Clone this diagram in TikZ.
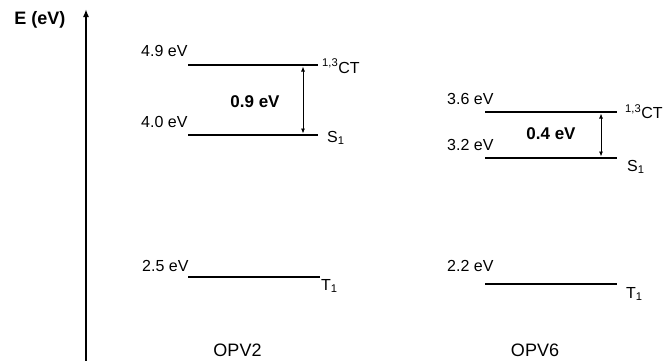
\documentclass[tikz,border=0pt]{standalone}
\usepackage{fontspec}
\setmainfont{Liberation Sans}
\usetikzlibrary{arrows.meta}
\begin{document}
\begin{tikzpicture}[x=1pt,y=-1pt,
  level/.style={line width=2.6pt},
  gap/.style={line width=0.8pt,{Latex[length=5pt,width=4pt]}-{Latex[length=5pt,width=4pt]}},
  val/.style={anchor=west,inner sep=0pt,font=\fontsize{16}{18}\selectfont},
  state/.style={anchor=base west,inner sep=0pt,font=\fontsize{16}{18}\selectfont},
  diff/.style={inner sep=0pt,font=\fontsize{17}{19}\selectfont\bfseries},
  mol/.style={inner sep=0pt,font=\fontsize{18}{20}\selectfont}]
\useasboundingbox (0,0) rectangle (668,360);

% energy axis
\coordinate (ax0) at (86,362);
\coordinate (ax1) at (86,9);
\draw[line width=1.8pt,-{Latex[length=8pt,width=6pt]}] (ax0) -- (ax1);
\node[inner sep=0pt,font=\fontsize{18}{20}\selectfont\bfseries] (elab) at (40,20) {E (eV)};

% OPV2 levels
\coordinate (a1l) at (188,65);  \coordinate (a1r) at (318,65);
\coordinate (a2l) at (188,135); \coordinate (a2r) at (318,135);
\coordinate (a3l) at (188,277); \coordinate (a3r) at (320,277);
\draw[level] (a1l) -- (a1r);
\draw[level] (a2l) -- (a2r);
\draw[level] (a3l) -- (a3r);
\coordinate (ga1) at (303,66.5);
\coordinate (ga2) at (303,133.5);
\draw[gap] (ga1) -- (ga2);
\node[val] (va1) at (141,51) {4.9 eV};
\node[val] (va2) at (141,122) {4.0 eV};
\node[val] (va3) at (142,266) {2.5 eV};
\node[state] (sa1) at (322,73) {\textsuperscript{1,3}CT};
\node[state] (sa2) at (327,142) {S\textsubscript{1}};
\node[state] (sa3) at (321,290) {T\textsubscript{1}};
\node[diff] (da) at (255,102) {0.9 eV};
\node[mol] (ma) at (237.5,350) {OPV2};

% OPV6 levels
\coordinate (b1l) at (485,112); \coordinate (b1r) at (617,112);
\coordinate (b2l) at (485,158); \coordinate (b2r) at (617,158);
\coordinate (b3l) at (485,284); \coordinate (b3r) at (617,284);
\draw[level] (b1l) -- (b1r);
\draw[level] (b2l) -- (b2r);
\draw[level] (b3l) -- (b3r);
\coordinate (gb1) at (601,113.5);
\coordinate (gb2) at (601,156.5);
\draw[gap] (gb1) -- (gb2);
\node[val] (vb1) at (447,99) {3.6 eV};
\node[val] (vb2) at (447,145) {3.2 eV};
\node[val] (vb3) at (447,266) {2.2 eV};
\node[state] (sb1) at (625,118.5) {\textsuperscript{1,3}CT};
\node[state] (sb2) at (627,171) {S\textsubscript{1}};
\node[state] (sb3) at (626,298) {T\textsubscript{1}};
\node[diff] (db) at (551,134) {0.4 eV};
\node[mol] (mb) at (535,350) {OPV6};
\end{tikzpicture}
\end{document}
